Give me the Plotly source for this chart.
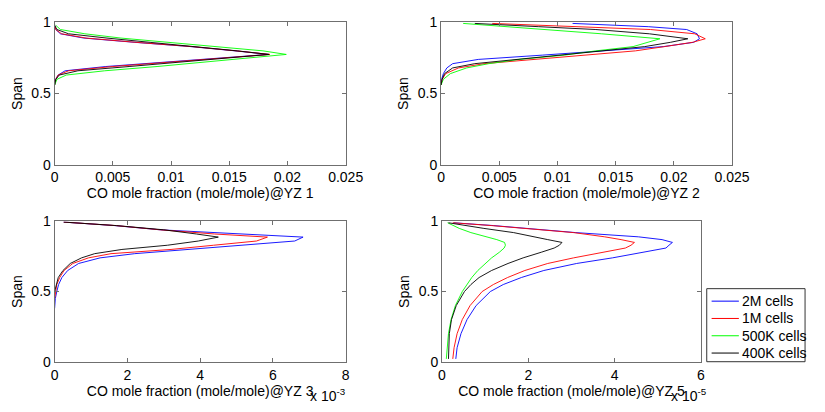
import plotly.graph_objects as go

# ---------------- data ----------------
series_names = ["2M cells", "1M cells", "500K cells", "400K cells"]
series_colors = ["#0000ff", "#ff0000", "#00ff00", "#000000"]

# YZ 1  (CO mole fraction)
yz1_span = [0.56, 0.60, 0.63, 0.66, 0.69, 0.72, 0.75, 0.775, 0.80, 0.83, 0.86, 0.89, 0.92, 0.95, 0.98]
yz1_2m   = [0.0, 0.0001, 0.0003, 0.0009, 0.0044, 0.0094, 0.0143, 0.0184, 0.0155, 0.0117, 0.0069, 0.0025, 0.0005, 0.0001, 0.0]
yz1_1m   = [0.0, 0.0001, 0.0003, 0.0012, 0.0050, 0.0098, 0.0145, 0.0185, 0.0156, 0.0118, 0.0070, 0.0027, 0.0006, 0.0001, 0.0]
yz1_500k = [0.0, 0.0002, 0.0010, 0.0043, 0.0088, 0.0128, 0.0167, 0.0199, 0.0179, 0.0137, 0.0092, 0.0057, 0.0026, 0.0005, 0.0001]
yz1_400k = [0.0, 0.0001, 0.0004, 0.0020, 0.0064, 0.0107, 0.0148, 0.0184, 0.0157, 0.0122, 0.0082, 0.0045, 0.0012, 0.0002, 0.0]

# YZ 2
yz2_span = [0.56, 0.60, 0.64, 0.68, 0.71, 0.74, 0.77, 0.80, 0.83, 0.86, 0.885, 0.92, 0.95, 0.97, 0.993]
yz2_2m   = [0.0, 0.00005, 0.0002, 0.0005, 0.0010, 0.0032, 0.0087, 0.0143, 0.0191, 0.0217, 0.0222, 0.0220, 0.0211, 0.0178, 0.0113]
yz2_1m   = [0.0, 0.0001, 0.0004, 0.0015, 0.0037, 0.0081, 0.0128, 0.0167, 0.0192, 0.0216, 0.0227, 0.0218, 0.0180, 0.0121, 0.0044]
yz2_500k = [0.0, 0.0002, 0.0008, 0.0022, 0.0041, 0.0067, 0.0106, 0.0133, 0.0165, 0.0178, 0.0188, 0.0138, 0.0089, 0.0057, 0.0019]
yz2_400k = [0.0, 0.0001, 0.0003, 0.0010, 0.0029, 0.0067, 0.0104, 0.0141, 0.0175, 0.0197, 0.0212, 0.0179, 0.0133, 0.0084, 0.0029]

# YZ 3  (values in units of 1e-3)
yz3_span = [0.38, 0.45, 0.50, 0.55, 0.60, 0.65, 0.70, 0.74, 0.77, 0.80, 0.83, 0.86, 0.888, 0.91, 0.94, 0.97, 0.995]
yz3_2m   = [0.0, 0.02, 0.06, 0.11, 0.20, 0.36, 0.66, 1.25, 2.2, 3.7, 5.26, 6.6, 6.83, 5.2, 2.9, 1.65, 0.25]
yz3_1m   = [None, 0.0, 0.02, 0.06, 0.14, 0.26, 0.50, 0.93, 1.55, 3.2, 4.37, 5.55, 5.85, 4.4, 2.9, 1.68, 0.25]
yz3_400k = [None, None, 0.0, 0.04, 0.10, 0.23, 0.43, 0.74, 1.1, 1.85, 3.1, 3.95, 4.5, 3.9, 3.0, 1.7, 0.25]

# YZ 5  (values in units of 1e-5)
yz5_span = [0.02, 0.10, 0.20, 0.30, 0.40, 0.50, 0.55, 0.60, 0.65, 0.70, 0.74, 0.78, 0.81, 0.83, 0.85, 0.87, 0.89, 0.92, 0.95, 0.97, 0.99]
yz5_2m   = [0.32, 0.35, 0.44, 0.58, 0.79, 1.12, 1.42, 1.84, 2.36, 3.12, 3.95, 4.70, 5.19, 5.26, 5.34, 5.10, 4.55, 3.10, 2.00, 1.20, 0.27]
yz5_1m   = [0.25, 0.28, 0.35, 0.47, 0.65, 0.93, 1.19, 1.52, 1.92, 2.45, 3.05, 3.72, 4.25, 4.38, 4.46, 4.15, 3.77, 3.05, 1.95, 1.15, 0.25]
yz5_500k = [0.10, 0.12, 0.15, 0.21, 0.31, 0.47, 0.57, 0.69, 0.83, 1.00, 1.15, 1.33, 1.44, 1.47, 1.45, 1.27, 1.03, 0.67, 0.40, 0.27, 0.13]
yz5_400k = [0.15, 0.16, 0.17, 0.22, 0.33, 0.52, 0.67, 0.86, 1.15, 1.53, 1.88, 2.30, 2.60, 2.72, 2.78, 2.45, 2.10, 1.66, 0.97, 0.57, 0.15]

x_titles = ["CO mole fraction (mole/mole)@YZ 1", "CO mole fraction (mole/mole)@YZ 2",
            "CO mole fraction (mole/mole)@YZ 3", "CO mole fraction (mole/mole)@YZ 5"]
x_ranges = [[0, 0.025], [0, 0.025], [0, 8], [0, 6]]
x_dticks = [0.005, 0.005, 2, 2]
y_title = "Span"

# ---------------- figure ----------------
W, H = 825, 412
FONT = "Liberation Sans, Arial, sans-serif"
FS = 14
AX = "#6f6f6f"

# panel boxes in pixels (left, right, top, bottom)
boxes = [(52, 351, 15, 163), (449, 748, 15, 163), (52, 351, 222, 368), (450, 716, 222, 368)]

panels = [
    (yz1_span, [yz1_2m, yz1_1m, yz1_500k, yz1_400k]),
    (yz2_span, [yz2_2m, yz2_1m, yz2_500k, yz2_400k]),
    (yz3_span, [yz3_2m, yz3_1m, None, yz3_400k]),
    (yz5_span, [yz5_2m, yz5_1m, yz5_500k, yz5_400k]),
]

fig = go.Figure()
for p, (span, vals) in enumerate(panels):
    xa = "x" if p == 0 else f"x{p+1}"
    ya = "y" if p == 0 else f"y{p+1}"
    for s, v in enumerate(vals):
        if v is None:
            continue
        fig.add_trace(go.Scatter(
            x=v, y=span, mode="lines", xaxis=xa, yaxis=ya,
            line=dict(color=series_colors[s], width=0.9),
            name=series_names[s], legendgroup=series_names[s], showlegend=False,
        ))

layout = dict(
    width=W, height=H, margin=dict(l=0, r=0, t=0, b=0),
    paper_bgcolor="white", plot_bgcolor="white",
    font=dict(family=FONT, size=FS, color="black"),
    showlegend=False,
)

for p, (l, r, t, b) in enumerate(boxes):
    xk = "xaxis" if p == 0 else f"xaxis{p+1}"
    yk = "yaxis" if p == 0 else f"yaxis{p+1}"
    yanchor = "y" if p == 0 else f"y{p+1}"
    xanchor = "x" if p == 0 else f"x{p+1}"
    layout[xk] = dict(
        domain=[l / W, r / W], anchor=yanchor, range=x_ranges[p], dtick=x_dticks[p], tick0=0,
        showgrid=False, zeroline=False, showline=True, linecolor=AX, linewidth=1,
        mirror="ticks", ticks="inside", ticklen=4, tickcolor=AX,
        tickfont=dict(size=FS), title=dict(text=x_titles[p], font=dict(size=FS),
                                          standoff=1 if p < 2 else 4),
    )
    layout[yk] = dict(
        domain=[1 - b / H, 1 - t / H], anchor=xanchor, range=[0, 1], tickvals=[0, 0.5, 1],
        showgrid=False, zeroline=False, showline=True, linecolor=AX, linewidth=1,
        mirror="ticks", ticks="inside", ticklen=4, tickcolor=AX,
        tickfont=dict(size=FS), title=dict(text=y_title, font=dict(size=FS), standoff=5),
    )

fig.update_layout(**layout)

# exponent labels
fig.add_annotation(text="x 10<sup>-3</sup>", xref="paper", yref="paper",
                   x=312 / W, y=1 - 403 / H, xanchor="left", yanchor="middle",
                   showarrow=False, font=dict(size=FS))
fig.add_annotation(text="x 10<sup>-5</sup>", xref="paper", yref="paper",
                   x=683 / W, y=1 - 403 / H, xanchor="left", yanchor="middle",
                   showarrow=False, font=dict(size=FS))

# legend box (drawn like the MATLAB legend)
LX0, LX1, LY0, LY1 = 722, 823, 292, 368
fig.add_shape(type="rect", xref="paper", yref="paper",
              x0=LX0 / W, x1=LX1 / W, y0=1 - LY1 / H, y1=1 - LY0 / H,
              line=dict(color="#333333", width=1), fillcolor="white", layer="above")
for i, (name, col) in enumerate(zip(series_names, series_colors)):
    yy = 305 + 18 * i
    fig.add_shape(type="line", xref="paper", yref="paper",
                  x0=727 / W, x1=755 / W, y0=1 - yy / H, y1=1 - yy / H,
                  line=dict(color=col, width=1), layer="above")
    fig.add_annotation(text=name, xref="paper", yref="paper",
                       x=756 / W, y=1 - yy / H, xanchor="left", yanchor="middle",
                       showarrow=False, font=dict(size=FS))

fig.write_html("out.html")
